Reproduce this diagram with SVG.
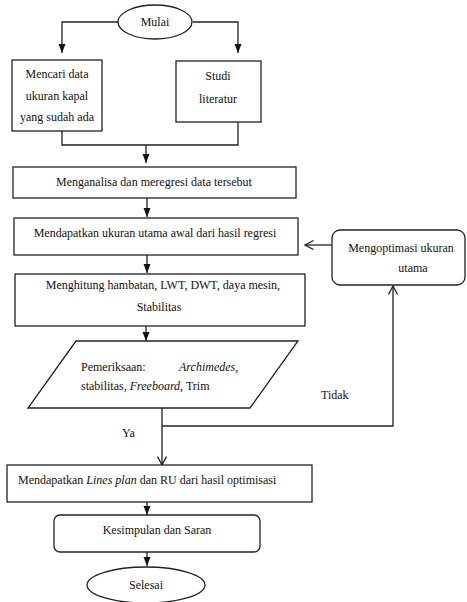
<svg xmlns="http://www.w3.org/2000/svg" width="467" height="602" viewBox="0 0 467 602">
<style>
.s{fill:#fff;stroke:#222;stroke-width:1.3}
.c{fill:none;stroke:#222;stroke-width:1.3}
text{font-size:12px;fill:#111}
.m{text-anchor:middle}
.i{font-style:italic}
</style>
<defs>
<marker id="f" markerUnits="userSpaceOnUse" markerWidth="10" markerHeight="8" refX="9" refY="3.5" orient="auto" viewBox="0 0 10 8">
<path d="M0,0 L9,3.5 L0,7 z" fill="#111"/>
</marker>
<marker id="o" markerUnits="userSpaceOnUse" markerWidth="11" markerHeight="11" refX="9.5" refY="5" orient="auto" viewBox="0 0 11 11">
<path d="M1,0.5 L9.5,5 L1,9.5" fill="none" stroke="#222" stroke-width="1.3"/>
</marker>
</defs>
<g font-family="'Liberation Serif', 'DejaVu Serif', serif">
<g id="connectors">
<path class="c" d="M118,22 H62 V53" marker-end="url(#f)"/>
<path class="c" d="M193,22 H238 V53" marker-end="url(#f)"/>
<path class="c" d="M62,131 V145 H238 V122"/>
<path class="c" d="M146,145 V163" marker-end="url(#f)"/>
<path class="c" d="M147,198 V217" marker-end="url(#f)"/>
<path class="c" d="M147,255 V273" marker-end="url(#f)"/>
<path class="c" d="M146,326 V341" marker-end="url(#f)"/>
<path class="c" d="M162,408 V465" marker-end="url(#o)"/>
<path class="c" d="M162,426 H393 V286" marker-end="url(#o)"/>
<path class="c" d="M332,245 H305" marker-end="url(#o)"/>
<path class="c" d="M147,502 V515" marker-end="url(#f)"/>
<path class="c" d="M147,552 V566" marker-end="url(#f)"/>
<text x="321" y="399">Tidak</text>
<text x="122" y="437">Ya</text>
</g>
<g id="mulai">
<ellipse class="s" cx="155" cy="22" rx="37" ry="17"/>
<text class="m" x="155" y="26">Mulai</text>
</g>
<g id="mencari">
<rect class="s" x="12" y="60" width="90" height="71"/>
<text class="m" x="57" y="78">Mencari data</text>
<text class="m" x="57" y="100">ukuran kapal</text>
<text class="m" x="57" y="121">yang sudah ada</text>
</g>
<g id="studi">
<rect class="s" x="176" y="61" width="85" height="61"/>
<text class="m" x="218" y="80">Studi</text>
<text class="m" x="218" y="103">literatur</text>
</g>
<g id="menganalisa">
<rect class="s" x="13" y="167" width="283" height="31"/>
<text class="m" x="154" y="186">Menganalisa dan meregresi data tersebut</text>
</g>
<g id="mendapatkan-ukuran">
<rect class="s" x="14" y="218" width="284" height="37"/>
<text class="m" x="155" y="237">Mendapatkan ukuran utama awal dari hasil regresi</text>
</g>
<g id="menghitung">
<rect class="s" x="15" y="274" width="290" height="52"/>
<text class="m" x="163" y="289">Menghitung hambatan, LWT, DWT, daya mesin,</text>
<text class="m" x="159" y="311">Stabilitas</text>
</g>
<g id="pemeriksaan">
<path class="s" d="M76,341 L298,341 L250,408 L28,408 z"/>
<text x="81" y="371">Pemeriksaan:</text>
<text class="i" x="179" y="371">Archimedes<tspan font-style="normal">,</tspan></text>
<text x="81" y="390">stabilitas, <tspan class="i">Freeboard</tspan>, Trim</text>
</g>
<g id="mengoptimasi">
<rect class="s" x="332" y="230" width="133" height="55" rx="8"/>
<text class="m" x="401" y="252">Mengoptimasi ukuran</text>
<text class="m" x="413" y="272">utama</text>
</g>
<g id="lines-plan">
<rect class="s" x="7" y="465" width="305" height="37"/>
<text x="18" y="484">Mendapatkan <tspan class="i">Lines plan</tspan> dan RU dari hasil optimisasi</text>
</g>
<g id="kesimpulan">
<rect class="s" x="54" y="515" width="206" height="37" rx="6"/>
<text class="m" x="157" y="534">Kesimpulan dan Saran</text>
</g>
<g id="selesai">
<ellipse class="s" cx="146" cy="585" rx="59" ry="18"/>
<text class="m" x="146" y="589">Selesai</text>
</g>
</g>
</svg>
